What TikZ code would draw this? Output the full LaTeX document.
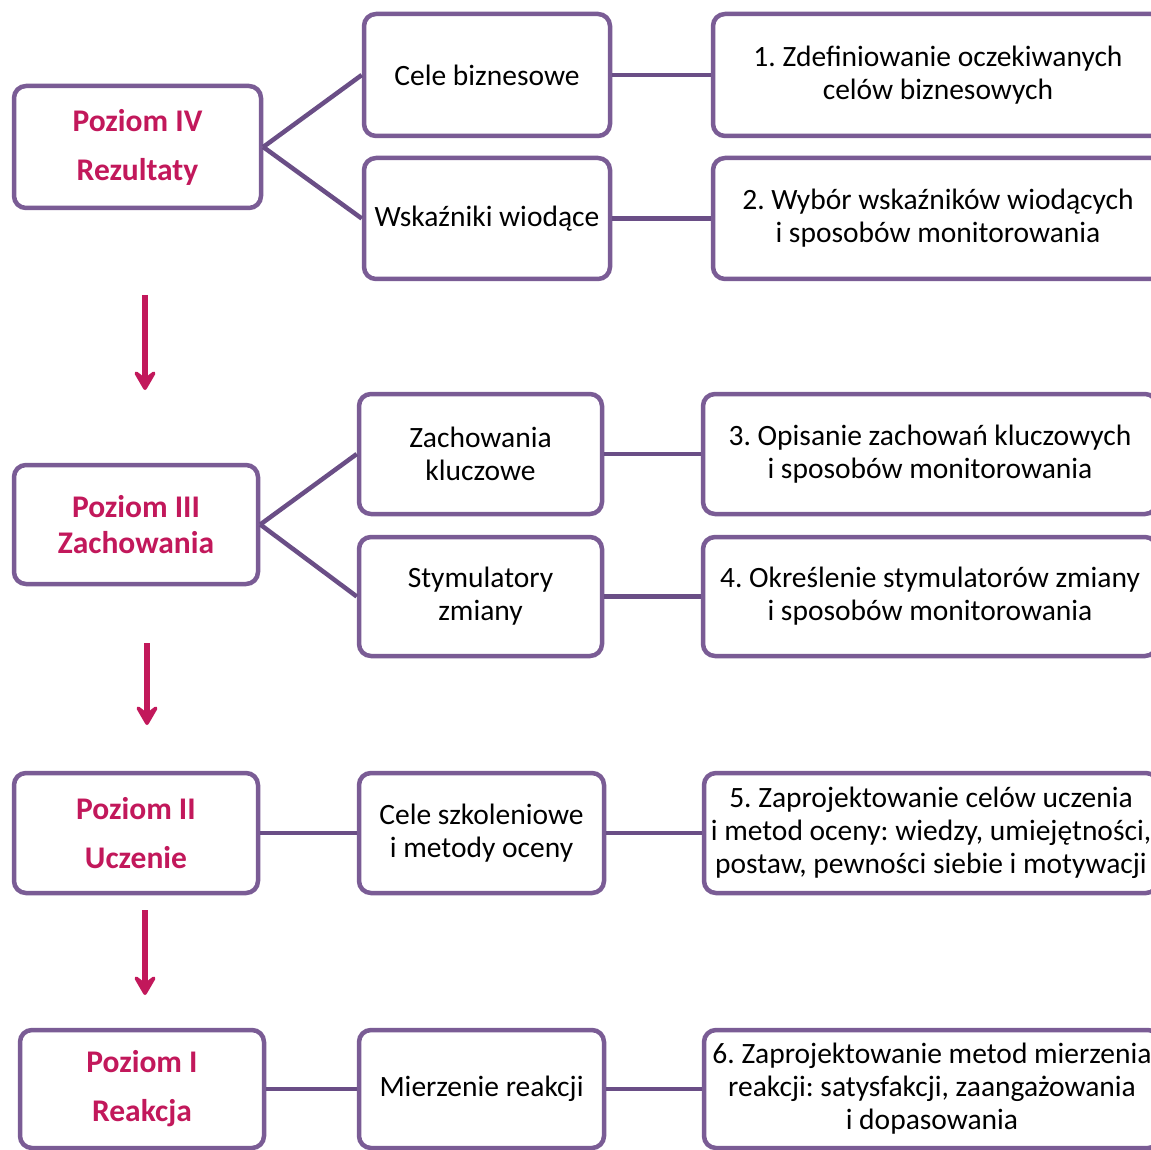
\documentclass[tikz,border=0pt]{standalone}
\usepackage{fontspec}
\setmainfont{Carlito}
\usetikzlibrary{arrows.meta}
\definecolor{frame}{HTML}{7A5C95}
\definecolor{conn}{HTML}{6A4E86}
\definecolor{mag}{HTML}{C2185B}
\frenchspacing
\tikzset{
  box/.style={draw=frame, line width=4.5pt, rounded corners=12pt, fill=white,
    align=center, inner sep=0pt, text=black,
    font=\fontsize{29.5}{33}\selectfont\frenchspacing},
  lvl/.style={box, text=mag, font=\fontsize{31.5}{36}\selectfont\bfseries\frenchspacing},
  link/.style={draw=conn, line width=4.5pt},
  down/.style={draw=mag, line width=5.5pt,
    -{Stealth[length=25pt, width=29pt, inset=11pt, round]}}
}
\begin{document}
\begin{tikzpicture}[x=1pt, y=-1pt]
\clip (0,0) rectangle (1151,1150);
\fill[white] (0,0) rectangle (1151,1150);

% Level IV
\node[lvl, minimum width=247pt, minimum height=122pt] (l4) at (137.5,147) {Poziom IV\\[13pt]Rezultaty};
\node[box, minimum width=246pt, minimum height=122pt] (cb) at (487,75) {Cele biznesowe};
\node[box, minimum width=246pt, minimum height=121pt] (wk) at (487,218.5) {Wskaźniki wiodące};
\node[box, minimum width=450pt, minimum height=122pt] (s1) at (938,75) {1. Zdefiniowanie oczekiwanych\\celów biznesowych};
\node[box, minimum width=450pt, minimum height=121pt] (s2) at (938,218.5) {2. Wybór wskaźników wiodących\\i sposobów monitorowania};
\draw[link] (l4.east) -- (cb.west);
\draw[link] (l4.east) -- (wk.west);
\draw[link] (cb.east) -- (s1.west);
\draw[link] (wk.east) -- (s2.west);

% Level III
\node[lvl, minimum width=244pt, minimum height=119pt] (l3) at (136,524.5) {Poziom III\\Zachowania};
\node[box, minimum width=243pt, minimum height=120pt] (zk) at (480.5,454) {Zachowania\\kluczowe};
\node[box, minimum width=243pt, minimum height=119pt] (sz) at (480.5,596.5) {Stymulatory\\zmiany};
\node[box, minimum width=454pt, minimum height=120pt] (s3) at (930,454) {3. Opisanie zachowań kluczowych\\i sposobów monitorowania};
\node[box, minimum width=454pt, minimum height=119pt] (s4) at (930,596.5) {4. Określenie stymulatorów zmiany\\i sposobów monitorowania};
\draw[link] (l3.east) -- (zk.west);
\draw[link] (l3.east) -- (sz.west);
\draw[link] (zk.east) -- (s3.west);
\draw[link] (sz.east) -- (s4.west);

% Level II
\node[lvl, minimum width=244pt, minimum height=120pt] (l2) at (136,833) {Poziom II\\[13pt]Uczenie};
\node[box, minimum width=245pt, minimum height=120pt] (cs) at (481.5,833) {Cele szkoleniowe\\i metody oceny};
\node[box, minimum width=454pt, minimum height=120pt] (s5) at (931,833) {5. Zaprojektowanie celów uczenia\\i metod oceny: wiedzy, umiejętności,\\postaw, pewności siebie i motywacji};
\draw[link] (l2.east) -- (cs.west);
\draw[link] (cs.east) -- (s5.west);

% Level I
\node[lvl, minimum width=244pt, minimum height=118pt] (l1) at (142,1089) {Poziom I\\[13pt]Reakcja};
\node[box, minimum width=245pt, minimum height=118pt] (mr) at (481.5,1089) {Mierzenie reakcji};
\node[box, minimum width=456pt, minimum height=118pt] (s6) at (932,1089) {6. Zaprojektowanie metod mierzenia\\reakcji: satysfakcji, zaangażowania\\i dopasowania};
\draw[link] (l1.east) -- (mr.west);
\draw[link] (mr.east) -- (s6.west);

% arrows between levels
\coordinate (a1s) at (145,295);
\coordinate (a1e) at (145,390);
\coordinate (a2s) at (147,643);
\coordinate (a2e) at (147,725);
\coordinate (a3s) at (145,910);
\coordinate (a3e) at (145,995);
\draw[down] (a1s) -- (a1e);
\draw[down] (a2s) -- (a2e);
\draw[down] (a3s) -- (a3e);
\end{tikzpicture}
\end{document}
